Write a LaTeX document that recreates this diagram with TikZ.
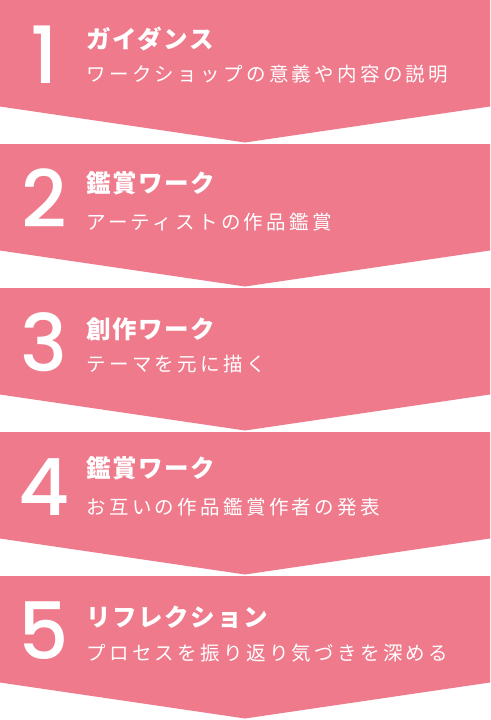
\documentclass[tikz,border=0pt]{standalone}
\usepackage{fontspec}
\newfontfamily\numfont{Poppins}[UprightFont={* Medium}]
\newfontfamily\jptitle{Noto Sans CJK JP}[LetterSpace=7]
\newfontfamily\jpsub{Noto Sans CJK JP}[LetterSpace=17]
\definecolor{pinkfill}{RGB}{238,122,140}
\tikzset{
  chevron/.style={fill=pinkfill, draw=none},
  numtext/.style={text=white, inner sep=0pt, outer sep=0pt, anchor=base,
    font=\numfont\fontsize{79}{79}\selectfont},
  titletext/.style={text=white, inner sep=0pt, outer sep=0pt, anchor=west,
    font=\jptitle\bfseries\fontsize{24.5}{24.5}\selectfont},
  subtext/.style={text=white, inner sep=0pt, outer sep=0pt, anchor=west,
    font=\jpsub\fontsize{19.5}{19.5}\selectfont},
}
\begin{document}
\begin{tikzpicture}[x=1pt,y=-1pt]
\useasboundingbox (0,0) rectangle (490,720);
\foreach \i/\T/\num/\ttl/\sub/\ty/\sy in {
  1/0/1/ガイダンス/ワークショップの意義や内容の説明/39/74.5,
  2/144/2/鑑賞ワーク/アーティストの作品鑑賞/39/78,
  3/288/3/創作ワーク/テーマを元に描く/41/76.5,
  4/432/4/鑑賞ワーク/お互いの作品鑑賞作者の発表/36.5/75,
  5/576/5/リフレクション/プロセスを振り返り気づきを深める/41/77.5}{
  \fill[chevron] (0,\T) -- (490,\T) -- (490,\T+106.5) -- (245,\T+142.5)
     -- (0,\T+106.5) -- cycle;
  \node[numtext] (num\i) at (44,\T+83.5) {\num};
  \node[titletext] (title\i) at (86,\T+\ty) {\ttl};
  \node[subtext] (sub\i) at (86.5,\T+\sy) {\sub};
}
\end{tikzpicture}
\end{document}
